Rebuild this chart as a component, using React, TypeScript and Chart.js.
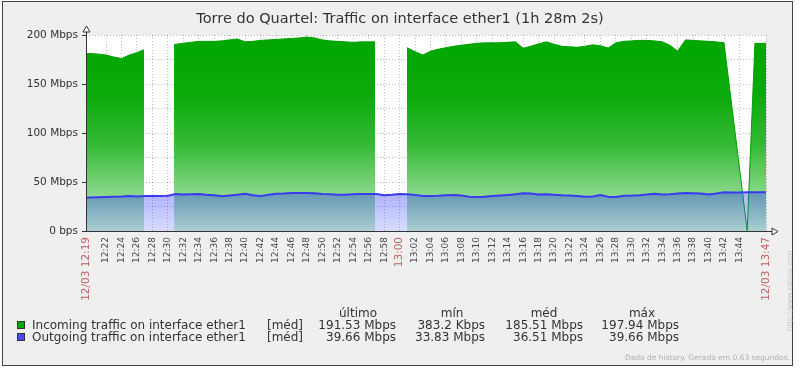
import React, { useEffect, useRef } from 'react';
import { Chart, registerables } from 'chart.js';

Chart.register(...registerables);

const TITLE = 'Torre do Quartel: Traffic on interface ether1 (1h 28m 2s)';
const START = '12:19:24';
const END = '13:47:26';
const START_LABEL = '12/03 12:19';
const END_LABEL = '12/03 13:47';
const MAJOR_TICKS = ['13:00'];
const TICK_TIMES = [
  '12:22', '12:24', '12:26', '12:28', '12:30', '12:32', '12:34', '12:36', '12:38', '12:40',
  '12:42', '12:44', '12:46', '12:48', '12:50', '12:52', '12:54', '12:56', '12:58', '13:00',
  '13:02', '13:04', '13:06', '13:08', '13:10', '13:12', '13:14', '13:16', '13:18', '13:20',
  '13:22', '13:24', '13:26', '13:28', '13:30', '13:32', '13:34', '13:36', '13:38', '13:40',
  '13:42', '13:44',
];
const Y_LABELS = ['0 bps', '50 Mbps', '100 Mbps', '150 Mbps', '200 Mbps'];

// Incoming traffic (Mbps); null = no data
const inTimes = [
  '12:19:24', '12:20', '12:21', '12:22', '12:23', '12:24', '12:25', '12:26', '12:26:55',
  '12:29',
  '12:30:48', '12:31', '12:32', '12:33', '12:34', '12:35', '12:36', '12:37', '12:38', '12:39',
  '12:40', '12:41', '12:42', '12:43', '12:44', '12:45', '12:46', '12:47', '12:48', '12:49',
  '12:50', '12:51', '12:52', '12:53', '12:54', '12:55', '12:56', '12:56:49',
  '12:59',
  '13:00:57', '13:02', '13:03', '13:04', '13:05', '13:06', '13:07', '13:08', '13:09', '13:10',
  '13:11', '13:12', '13:13', '13:14', '13:15', '13:16', '13:17', '13:18', '13:19', '13:20',
  '13:21', '13:22', '13:23', '13:24', '13:25', '13:26', '13:27', '13:28', '13:29', '13:30',
  '13:31', '13:32', '13:33', '13:34', '13:35', '13:36', '13:37', '13:38', '13:39', '13:40',
  '13:41', '13:42', '13:45', '13:46', '13:47', '13:47:26',
];
const inValues = [
  181, 181, 180.5, 179.5, 177.5, 176, 179.5, 182, 185,
  null,
  190, 190.5, 191.5, 192.5, 193.5, 193.5, 193.5, 194, 195, 196,
  193, 193.5, 194.5, 195, 195.5, 196, 196.5, 197, 197.94, 197,
  195, 194, 193.5, 193, 192.5, 193, 193, 193,
  null,
  187, 183, 179.5, 183.5, 185.5, 187, 188.5, 189.5, 190.5, 191.5,
  192, 192, 192, 192.5, 193, 186.5, 188.5, 191, 193, 190.5,
  188.5, 188, 187.5, 188.5, 190, 189, 186.7, 192, 193.5, 194,
  194.5, 194.5, 194, 193, 189.5, 183.5, 195, 194.5, 194, 193.5,
  193, 192, 0.3832, 191.5, 191.5, 191.53,
];

// Outgoing traffic (Mbps)
const outTimes = [
  '12:19:24', '12:20', '12:21', '12:22', '12:23', '12:24', '12:25', '12:26', '12:27', '12:28',
  '12:29', '12:30', '12:31', '12:32', '12:33', '12:34', '12:35', '12:36', '12:37', '12:38',
  '12:39', '12:40', '12:41', '12:42', '12:43', '12:44', '12:45', '12:46', '12:47', '12:48',
  '12:49', '12:50', '12:51', '12:52', '12:53', '12:54', '12:55', '12:56', '12:57', '12:58',
  '12:59', '13:00', '13:01', '13:02', '13:03', '13:04', '13:05', '13:06', '13:07', '13:08',
  '13:09', '13:10', '13:11', '13:12', '13:13', '13:14', '13:15', '13:16', '13:17', '13:18',
  '13:19', '13:20', '13:21', '13:22', '13:23', '13:24', '13:25', '13:26', '13:27', '13:28',
  '13:29', '13:30', '13:31', '13:32', '13:33', '13:34', '13:35', '13:36', '13:37', '13:38',
  '13:39', '13:40', '13:41', '13:42', '13:43', '13:44', '13:45', '13:46', '13:47', '13:47:26',
];
const outValues = [
  33.9, 34.2, 34.5, 34.8, 35.0, 35.3, 35.8, 35.2, 35.6, 35.8,
  35.8, 36.0, 37.8, 37.2, 37.6, 37.8, 37.0, 36.5, 35.5, 36.2,
  37.0, 38.0, 36.5, 35.6, 37.0, 38.0, 38.2, 38.8, 38.8, 38.8,
  38.5, 37.8, 37.6, 37.0, 37.0, 37.5, 37.8, 37.8, 37.8, 36.5,
  37.0, 37.8, 37.4, 36.8, 35.8, 35.8, 36.0, 36.4, 36.8, 36.2,
  35.0, 34.8, 35.0, 35.6, 36.2, 36.8, 37.4, 38.6, 38.2, 37.2,
  37.6, 37.0, 36.4, 36.2, 35.6, 35.0, 35.2, 36.8, 35.0, 34.8,
  36.0, 36.2, 36.6, 37.2, 38.0, 37.2, 37.6, 38.2, 38.8, 38.6,
  38.2, 37.2, 38.2, 39.5, 39.2, 39.4, 39.6, 39.6, 39.66, 39.66,
];

const legendNames = ['Incoming traffic on interface ether1', 'Outgoing traffic on interface ether1'];
const legendColors = ['#00aa00', '#4848ff'];
const statHeaders = ['último', 'mín', 'méd', 'máx'];
const incomingStats = ['191.53 Mbps', '383.2 Kbps', '185.51 Mbps', '197.94 Mbps'];
const outgoingStats = ['39.66 Mbps', '33.83 Mbps', '36.51 Mbps', '39.66 Mbps'];
const FOOTER = 'Dado de history. Gerado em 0.63 segundos.';
const URL_TEXT = 'http://www.zabbix.com';

const toSec = (t: string) => {
  const p = t.split(':').map(Number);
  return p[0] * 3600 + p[1] * 60 + (p[2] || 0);
};

const FONT = '"DejaVu Sans", sans-serif';

export default function App() {
  const ref = useRef<HTMLCanvasElement | null>(null);

  useEffect(() => {
    document.body.style.margin = '0';
    const canvas = ref.current;
    if (!canvas) return;
    const startS = toSec(START);
    const endS = toSec(END);
    const tickVals = [startS, ...TICK_TIMES.map(toSec), endS];
    const majorVals = MAJOR_TICKS.map(toSec);
    const isRed = (v: number) => v === startS || v === endS || majorVals.includes(v);
    const fmt = (v: number) => {
      if (v === startS) return START_LABEL;
      if (v === endS) return END_LABEL;
      const h = Math.floor(v / 3600);
      const m = Math.floor((v % 3600) / 60);
      return `${h}:${String(m).padStart(2, '0')}`;
    };

    const frame = {
      id: 'zbxFrame',
      beforeDraw(chart: any) {
        const c = chart.ctx;
        const a = chart.chartArea;
        c.save();
        c.fillStyle = '#ffffff';
        c.fillRect(0, 0, chart.width, chart.height);
        c.fillStyle = '#efefef';
        c.fillRect(2, 1, 791, 365);
        c.fillStyle = '#ffffff';
        c.fillRect(a.left, a.top, a.right - a.left, a.bottom - a.top);
        c.restore();
      },
      afterDraw(chart: any) {
        const c = chart.ctx;
        const a = chart.chartArea;
        const ys = chart.scales.y;
        c.save();
        // outer frame
        c.strokeStyle = '#444';
        c.lineWidth = 1;
        c.strokeRect(2.5, 1.5, 790, 364);
        // axes
        c.strokeStyle = '#333';
        c.beginPath();
        c.moveTo(a.left + 0.5, a.bottom + 0.5);
        c.lineTo(a.left + 0.5, a.top - 3);
        c.stroke();
        c.beginPath();
        c.moveTo(a.left, a.bottom + 0.5);
        c.lineTo(a.right + 6, a.bottom + 0.5);
        c.stroke();
        c.fillStyle = '#ffffff';
        c.beginPath();
        c.moveTo(a.left + 0.5, a.top - 9);
        c.lineTo(a.left - 3, a.top - 3);
        c.lineTo(a.left + 4, a.top - 3);
        c.closePath();
        c.fill();
        c.stroke();
        c.beginPath();
        c.moveTo(a.right + 12, a.bottom + 0.5);
        c.lineTo(a.right + 6, a.bottom - 3);
        c.lineTo(a.right + 6, a.bottom + 4);
        c.closePath();
        c.fill();
        c.stroke();
        // y tick marks
        [0, 50, 100, 150, 200].forEach((v) => {
          const y = Math.round(ys.getPixelForValue(v)) + 0.5;
          c.beginPath();
          c.moveTo(a.left - 4, y);
          c.lineTo(a.left, y);
          c.stroke();
        });
        // title
        c.fillStyle = '#333';
        c.font = `14.5px ${FONT}`;
        c.textAlign = 'center';
        c.textBaseline = 'alphabetic';
        c.fillText(TITLE, 400, 23);
        // legend
        c.font = `12px ${FONT}`;
        c.textBaseline = 'middle';
        const colCenters = [358, 452, 544, 642];
        const colRights = [396, 485, 583, 679];
        statHeaders.forEach((h, i) => {
          c.textAlign = 'center';
          c.fillStyle = '#333';
          c.fillText(h, colCenters[i], 314);
        });
        const rowsY = [325.5, 337.5];
        const stats = [incomingStats, outgoingStats];
        legendNames.forEach((name, r) => {
          const y = rowsY[r];
          c.fillStyle = legendColors[r];
          c.fillRect(17, y - 4.5, 8, 8);
          c.strokeStyle = '#333';
          c.strokeRect(17.5, y - 4, 7, 7);
          c.fillStyle = '#333';
          c.textAlign = 'left';
          c.fillText(name, 32, y);
          c.fillText('[méd]', 267, y);
          c.textAlign = 'right';
          stats[r].forEach((s, i) => c.fillText(s, colRights[i], y));
        });
        // footer
        c.font = `7.5px ${FONT}`;
        c.fillStyle = '#b0b0b0';
        c.textAlign = 'right';
        c.fillText(FOOTER, 790, 358);
        // vertical url
        c.translate(790, 291);
        c.rotate(-Math.PI / 2);
        c.textAlign = 'center';
        c.font = `7px ${FONT}`;
        c.fillStyle = '#c4c4c4';
        c.fillText(URL_TEXT, 0, 0);
        c.restore();
      },
    };

    const greenFill = (ctx: any) => {
      const ch = ctx.chart;
      const a = ch.chartArea;
      if (!a) return 'rgb(0,170,0)';
      const g = ch.ctx.createLinearGradient(0, a.top, 0, a.bottom);
      g.addColorStop(0, 'rgb(0,166,0)');
      g.addColorStop(0.3, 'rgb(10,170,10)');
      g.addColorStop(0.55, 'rgb(50,185,50)');
      g.addColorStop(1, 'rgb(200,238,200)');
      return g;
    };
    const blueFill = (ctx: any) => {
      const ch = ctx.chart;
      const a = ch.chartArea;
      if (!a) return 'rgba(0,0,255,0.3)';
      const top = ch.scales.y.getPixelForValue(40);
      const g = ch.ctx.createLinearGradient(0, top, 0, a.bottom);
      g.addColorStop(0, 'rgba(50,55,255,0.4)');
      g.addColorStop(1, 'rgba(60,80,255,0.2)');
      return g;
    };

    const chart = new Chart(canvas, {
      type: 'line',
      data: {
        datasets: [
          {
            label: legendNames[1],
            data: outTimes.map((t, i) => ({ x: toSec(t), y: outValues[i] })),
            borderColor: '#3a3aee',
            borderWidth: 2,
            backgroundColor: blueFill,
            fill: 'origin',
            pointRadius: 0,
            tension: 0,
            order: 0,
          },
          {
            label: legendNames[0],
            data: inTimes.map((t, i) => ({ x: toSec(t), y: inValues[i] })),
            borderColor: '#00a000',
            borderWidth: 1,
            backgroundColor: greenFill,
            fill: 'origin',
            pointRadius: 0,
            tension: 0,
            spanGaps: false,
            order: 1,
          },
        ],
      },
      options: {
        responsive: false,
        animation: false,
        devicePixelRatio: 1,
        layout: { padding: { top: 35, right: 34, left: 0, bottom: 0 } },
        plugins: { legend: { display: false }, tooltip: { enabled: false }, title: { display: false } },
        scales: {
          x: {
            type: 'linear',
            min: startS,
            max: endS,
            z: 1,
            afterBuildTicks: (s: any) => {
              s.ticks = tickVals.map((v) => ({ value: v }));
            },
            afterFit: (s: any) => {
              s.height = 138;
            },
            grid: { color: 'rgba(0,0,0,0.26)', lineWidth: 1, drawTicks: false },
            border: { display: false, dash: [1, 2] },
            ticks: {
              autoSkip: false,
              minRotation: 90,
              maxRotation: 90,
              padding: 6,
              callback: (v: any) => fmt(Number(v)),
              color: (ctx: any) => (isRed(ctx.tick?.value) ? '#c06060' : '#484848'),
              font: (ctx: any) => ({ family: FONT, size: isRed(ctx.tick?.value) ? 10.5 : 9 }),
            },
          },
          y: {
            min: 0,
            max: 200,
            z: 1,
            afterFit: (s: any) => {
              s.width = 86;
            },
            grid: { color: 'rgba(0,0,0,0.26)', lineWidth: 1, drawTicks: false },
            border: { display: false, dash: [1, 2] },
            ticks: {
              stepSize: 25,
              padding: 8,
              color: '#333',
              font: { family: FONT, size: 10.5 },
              callback: (v: any) => (Number(v) % 50 === 0 ? Y_LABELS[Number(v) / 50] : ''),
            },
          },
        },
      },
      plugins: [frame],
    } as any);

    return () => chart.destroy();
  }, []);

  return (
    <div style={{ position: 'absolute', left: 0, top: 0, width: 800, height: 369 }}>
      <canvas ref={ref} width={800} height={369} />
    </div>
  );
}
